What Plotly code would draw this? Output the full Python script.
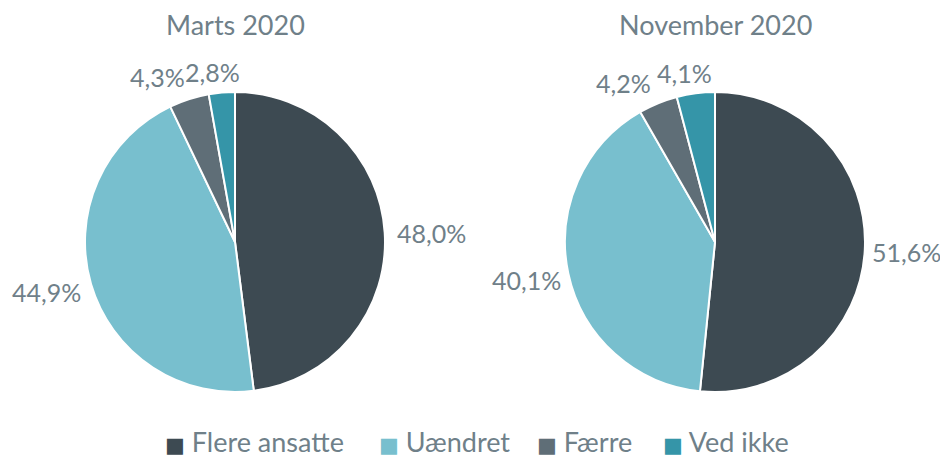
import plotly.graph_objects as go

categories = ["Flere ansatte", "Uændret", "Færre", "Ved ikke"]
marts_2020 = [48.0, 44.9, 4.3, 2.8]
november_2020 = [51.6, 40.1, 4.2, 4.1]
titles = ["Marts 2020", "November 2020"]
colors = ["#3d4a52", "#78bfce", "#5f6e77", "#3595a8"]
text_color = "#6f8089"
font_family = "Lato"

W, H = 940, 459
R = 150
centers = [(235, 242), (715, 242)]
# label offsets (px) from pie centre, per slice (Excel best-fit placement)
label_offsets = [
    [(196, -9), (-189, 50), (-78, -165), (-23, -170)],
    [(191, 10), (-189, 38), (-92, -159), (-31, -169)],
]
legend_x = [164, 378, 536, 662]  # left edge of each legend entry (px)

def fmt(v):
    return f"{v:.1f}".replace(".", ",") + "%"

fig = go.Figure()
for i, vals in enumerate([marts_2020, november_2020]):
    cx, cy = centers[i]
    fig.add_trace(go.Pie(
        labels=categories, values=vals, textinfo="none",
        sort=False, direction="clockwise", rotation=0,
        marker=dict(colors=colors, line=dict(color="white", width=2)),
        domain=dict(x=[(cx - R) / W, (cx + R) / W], y=[1 - (cy + R) / H, 1 - (cy - R) / H]),
        hoverinfo="label+percent", showlegend=False,
    ))
    fig.add_annotation(text=titles[i], x=cx / W, y=1 - 25 / H, xref="paper", yref="paper",
                       xanchor="center", yanchor="middle", showarrow=False,
                       font=dict(size=27, color=text_color, family=font_family))
    for v, (dx, dy) in zip(vals, label_offsets[i]):
        fig.add_annotation(text=fmt(v), x=(cx + dx) / W, y=1 - (cy + dy) / H,
                           xref="paper", yref="paper", xanchor="center", yanchor="middle",
                           showarrow=False,
                           font=dict(size=25, color=text_color, family=font_family))

# legend drawn as annotations (coloured square + category name)
for name, col, lx in zip(categories, colors, legend_x):
    fig.add_annotation(
        text=f"<span style='color:{col};font-size:21px;font-family:DejaVu Sans'>■</span> {name}",
        x=lx / W, y=0, xref="paper", yref="paper",
        xanchor="left", yanchor="bottom", showarrow=False, borderpad=0,
        font=dict(size=27, color=text_color, family=font_family))

fig.update_layout(
    width=W, height=H, margin=dict(l=0, r=0, t=0, b=0, autoexpand=False),
    paper_bgcolor="white", plot_bgcolor="white", showlegend=False,
)
fig.write_html("out.html", config={"displayModeBar": False},
               post_script="document.body.style.margin='0px';")
